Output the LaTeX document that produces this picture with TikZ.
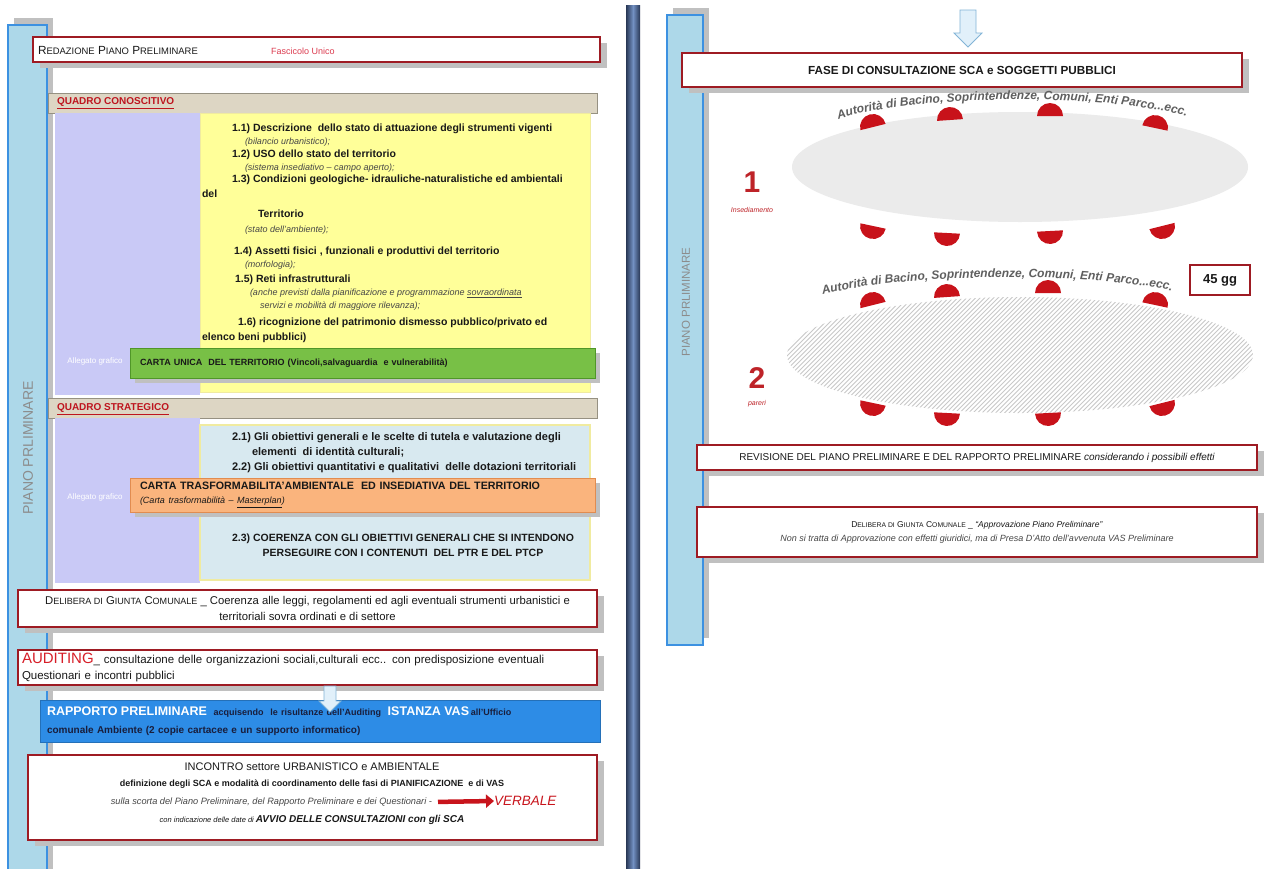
\documentclass[tikz,border=0pt]{standalone}
\usepackage{fontspec}
\setmainfont{Liberation Sans}
\usepackage{xcolor}
\usepackage{graphicx}
\usetikzlibrary{arrows.meta, positioning, shapes.geometric, shadows, decorations.text}

\definecolor{boxred}{RGB}{158,27,35}
\definecolor{shadowgray}{RGB}{192,192,192}
\definecolor{barfill}{RGB}{173,216,233}
\definecolor{barline}{RGB}{60,145,225}
\definecolor{bargray}{RGB}{140,140,140}
\definecolor{hdrfill}{RGB}{221,214,196}
\definecolor{hdrline}{RGB}{150,145,130}
\definecolor{hdrred}{RGB}{190,20,30}
\definecolor{lavfill}{RGB}{201,201,246}
\definecolor{yelfill}{RGB}{255,255,153}
\definecolor{yelline}{RGB}{240,235,160}
\definecolor{cielo}{RGB}{216,233,240}
\definecolor{greenfill}{RGB}{120,192,70}
\definecolor{greenline}{RGB}{80,150,40}
\definecolor{orangefill}{RGB}{250,180,125}
\definecolor{orangeline}{RGB}{225,140,80}
\definecolor{rapblue}{RGB}{45,140,230}
\definecolor{rapdark}{RGB}{25,30,60}
\definecolor{divdark}{RGB}{40,55,85}
\definecolor{divlight}{RGB}{115,145,195}
\definecolor{ellgray}{RGB}{235,235,235}
\definecolor{hatchgray}{RGB}{200,200,200}
\definecolor{seatred}{RGB}{200,18,26}
\definecolor{numred}{RGB}{190,35,40}
\definecolor{verbred}{RGB}{200,20,28}
\definecolor{audred}{RGB}{215,30,40}
\definecolor{pinkred}{RGB}{220,60,80}
\definecolor{arrowfill}{RGB}{225,240,250}
\definecolor{arrowline}{RGB}{130,180,215}
\definecolor{textdark}{RGB}{25,25,25}
\definecolor{notegray}{RGB}{70,70,70}
\definecolor{entigray}{RGB}{95,95,95}

\newcommand{\kap}[2]{#1\scalebox{0.8}{#2}}
\newcommand{\nota}[1]{{\fontsize{9}{12.8}\selectfont\mdseries\itshape\color{notegray}#1}}
\newcommand{\seatup}[3]{\fill[seatred, rotate around={#3:(#1,#2)}] (#1,#2) ++(-13pt,0pt) arc[start angle=180, end angle=0, radius=13pt] -- cycle;}
\newcommand{\seatdown}[3]{\fill[seatred, rotate around={#3:(#1,#2)}] (#1,#2) ++(-13pt,0pt) arc[start angle=180, end angle=360, radius=13pt] -- cycle;}
% block arrow: x, top, bottom, shaft half width, head half width
\newcommand{\freccia}[5]{\draw[draw=arrowline, fill=arrowfill, line width=0.8pt] (#1-#4,#2) -- (#1+#4,#2) -- (#1+#4,#3-#5) -- (#1+#5,#3-#5) -- (#1,#3) -- (#1-#5,#3-#5) -- (#1-#4,#3-#5) -- cycle;}

\begin{document}
\begin{tikzpicture}[
  x=1pt, y=-1pt,
  every node/.style = {inner sep=0pt, outer sep=0pt, text=textdark},
  redbox/.style = {draw=boxred, line width=1.6pt, fill=white, drop shadow={shadow xshift=7pt, shadow yshift=-6pt, opacity=1, fill=shadowgray}},
  sidebar/.style = {draw=barline, line width=1.8pt, fill=barfill, drop shadow={shadow xshift=6pt, shadow yshift=7pt, opacity=1, fill=shadowgray}},
  hdr/.style = {draw=hdrline, fill=hdrfill, line width=0.6pt, anchor=north west, minimum width=549, minimum height=20},
  hdrtxt/.style = {anchor=west, font=\fontsize{10}{10}\selectfont\bfseries, text=hdrred},
  panel/.style = {anchor=north west},
  allegato/.style = {font=\fontsize{8}{8}\selectfont, text=white},
  carta/.style = {anchor=north west, minimum width=465, align=left, text width=445, inner xsep=10, line width=0.8pt, drop shadow={shadow xshift=5pt, shadow yshift=-5pt, opacity=1, fill=shadowgray}},
  bignum/.style = {font=\fontsize{30}{30}\selectfont\bfseries, text=numred},
  numlbl/.style = {font=\fontsize{7}{7}\selectfont\itshape, text=numred},
  hatch/.style = {hatchgray, line width=0.9pt},
  enti/.style = {decorate, decoration={text along path, text align=center, text color=entigray,
    text={|\fontsize{12}{12}\selectfont\bfseries\itshape|Autorità di Bacino, Soprintendenze, Comuni, Enti Parco...ecc.}}}
]
  \path[use as bounding box, fill=white] (0,0) rectangle (1264,868);

  % left column
  \node[sidebar, anchor=north west, minimum width=39, minimum height=860] (barL) at (8,25) {};
  \node[rotate=90, font=\fontsize{14}{14}\selectfont, text=bargray] (barLtxt) at (28,448) {PIANO PRLIMINARE};

  \node[redbox, anchor=north west, minimum width=567, minimum height=25] (redaz) at (33,37) {};
  \node[anchor=west, font=\fontsize{11.8}{11.8}\selectfont] (redazTxt) at (38,50) {\kap{R}{EDAZIONE} \kap{P}{IANO} \kap{P}{RELIMINARE}};
  \node[anchor=west, font=\fontsize{9}{9}\selectfont, text=pinkred] (fasc) at (271,51) {Fascicolo Unico};

  \node[hdr] (hdrK) at (48,93) {};
  \node[hdrtxt] (hdrKtxt) at (57,103) {\underline{QUADRO CONOSCITIVO}};
  \node[panel, fill=lavfill, minimum width=145, minimum height=282] (lavK) at (55,113) {};
  \node[panel, fill=yelfill, draw=yelline, line width=1pt, minimum width=390, minimum height=279] (yelK) at (200,113) {};
  \node[panel, align=left, font=\fontsize{10.5}{12.8}\selectfont\bfseries] (elencoK) at (202,124) {%
    \hspace*{30pt}1.1) Descrizione\ \ dello stato di attuazione degli strumenti vigenti\\
    \hspace*{43pt}\nota{(bilancio urbanistico);}\\
    \hspace*{30pt}1.2) USO dello stato del territorio\\
    \hspace*{43pt}\nota{(sistema insediativo -- campo aperto);}\\
    \hspace*{30pt}1.3) Condizioni geologiche- idrauliche-naturalistiche ed ambientali\\[1.5pt]
    del\\[8pt]
    \hspace*{56pt}Territorio\\[2pt]
    \hspace*{43pt}\nota{(stato dell'ambiente);}\\[9pt]
    \hspace*{32pt}1.4) Assetti fisici , funzionali e produttivi del territorio\\
    \hspace*{43pt}\nota{(morfologia);}\\[2pt]
    \hspace*{33pt}1.5) Reti infrastrutturali\\[1pt]
    \hspace*{48pt}\nota{(anche previsti dalla pianificazione e programmazione \underline{sovraordinata}}\\
    \hspace*{58pt}\nota{servizi e mobilità di maggiore rilevanza);}\\[4pt]
    \hspace*{36pt}1.6) ricognizione del patrimonio dismesso pubblico/privato ed\\[2pt]
    elenco beni pubblici)};
  \node[carta, fill=greenfill, draw=greenline, minimum height=30, font=\fontsize{9}{9}\selectfont\bfseries] (cartaU) at (130,348) {CARTA UNICA\ \ DEL TERRITORIO (Vincoli,salvaguardia\ \ e vulnerabilità)};
  \node[allegato] (allegK) at (95,361) {Allegato grafico};

  \node[hdr] (hdrS) at (48,398) {};
  \node[hdrtxt] (hdrStxt) at (57,409) {\underline{QUADRO STRATEGICO}};
  \node[panel, fill=lavfill, minimum width=145, minimum height=165] (lavS) at (55,418) {};
  \node[panel, fill=cielo, draw=yelline, line width=1.5pt, minimum width=390, minimum height=155] (cieloS) at (200,425) {};
  \node[panel, align=left, font=\fontsize{11}{15}\selectfont\bfseries] (elencoS) at (202,433) {%
    \hspace*{30pt}2.1) Gli obiettivi generali e le scelte di tutela e valutazione degli\\
    \hspace*{50pt}elementi\ \ di identità culturali;\\
    \hspace*{30pt}2.2) Gli obiettivi quantitativi e qualitativi\ \ delle dotazioni territoriali};
  \node[carta, fill=orangefill, draw=orangeline, minimum height=34, font=\fontsize{10.7}{14}\selectfont] (cartaT) at (130,478) {\textbf{CARTA TRASFORMABILITA’AMBIENTALE\ \ ED INSEDIATIVA DEL TERRITORIO}\\{\fontsize{9}{14}\selectfont\itshape (Carta trasformabilità -- \underline{Masterplan})}};
  \node[allegato] (allegS) at (95,497) {Allegato grafico};
  \node[align=center, font=\fontsize{10.5}{15}\selectfont\bfseries] (coerenza) at (403,545) {2.3) COERENZA CON GLI OBIETTIVI GENERALI CHE SI INTENDONO\\PERSEGUIRE CON I CONTENUTI\ \ DEL PTR E DEL PTCP};

  \node[redbox, anchor=north west, minimum width=579, minimum height=37, align=center, font=\fontsize{11.3}{16}\selectfont] (delibera) at (18,590) {\kap{D}{ELIBERA DI} \kap{G}{IUNTA} \kap{C}{OMUNALE} \_ Coerenza alle leggi, regolamenti ed agli eventuali strumenti urbanistici e\\territoriali sovra ordinati e di settore};

  \node[redbox, anchor=north west, minimum width=579, minimum height=35, align=left, text width=571, inner xsep=4, font=\fontsize{11.5}{16}\selectfont] (auditing) at (18,650) {{\color{audred}\fontsize{15}{15}\selectfont AUDITING}\_ consultazione delle organizzazioni sociali,culturali ecc.. con predisposizione eventuali\\Questionari e incontri pubblici};

  \node[panel, fill=rapblue, draw=rapblue!80!black, line width=0.5pt, minimum width=560, minimum height=42, align=left, text width=554, inner xsep=3, font=\fontsize{10}{18}\selectfont\bfseries, text=rapdark] (rapporto) at (40,700) {\hspace*{4pt}{\color{white}\fontsize{12.5}{12.5}\selectfont RAPPORTO PRELIMINARE}\ \ {\fontsize{9}{9}\selectfont acquisendo\ \ le risultanze dell'Auditing}\ \ {\color{white}\fontsize{12.5}{12.5}\selectfont ISTANZA VAS}\,{\fontsize{9}{9}\selectfont all'Ufficio}\\\hspace*{4pt}comunale Ambiente (2 copie cartacee e un supporto informatico)};
  \freccia{330}{686}{712}{6}{11}

  \node[redbox, anchor=north west, minimum width=569, minimum height=85] (incontro) at (28,755) {};
  \node[font=\fontsize{11}{11}\selectfont] (inc1) at (312,767) {INCONTRO settore URBANISTICO e AMBIENTALE};
  \node[font=\fontsize{9}{9}\selectfont\bfseries] (inc2) at (312,784) {definizione degli SCA e modalità di coordinamento delle fasi di PIANIFICAZIONE\ \ e di VAS};
  \node[anchor=east, font=\fontsize{9.2}{9.2}\selectfont\itshape, text=notegray] (scorta) at (432,802) {sulla scorta del Piano Preliminare, del Rapporto Preliminare e dei Questionari -};
  \node[anchor=west, font=\fontsize{13.5}{13.5}\selectfont\itshape, text=verbred] (verbale) at (494,801) {VERBALE};
  \draw[-{Triangle[length=8pt,width=13pt]}, line width=4.5pt, verbred, shorten <=6pt] (scorta.east) -- (verbale.west);
  \node[font=\fontsize{7.5}{7.5}\selectfont\itshape] (inc4) at (312,820) {con indicazione delle date di {\fontsize{10}{10}\selectfont\bfseries AVVIO DELLE CONSULTAZIONI con gli SCA}};

  % divider
  \node[anchor=north west, minimum width=14, minimum height=870, left color=divdark, right color=divdark, middle color=divlight] (divisore) at (626,5) {};

  % right column
  \node[sidebar, anchor=north west, minimum width=36, minimum height=630] (barR) at (667,15) {};
  \node[rotate=90, font=\fontsize{11.5}{11.5}\selectfont, text=bargray] (barRtxt) at (686,302) {PIANO PRLIMINARE};

  \freccia{968}{10}{47}{8}{14}
  \node[redbox, anchor=north west, minimum width=560, minimum height=34, font=\fontsize{11.7}{11.7}\selectfont\bfseries] (fase) at (682,53) {FASE DI CONSULTAZIONE SCA e SOGGETTI PUBBLICI};

  \node[ellipse, fill=ellgray, minimum width=456, minimum height=110] (tavolo1) at (1020,167) {};
  \seatup{873}{127}{14} \seatup{950}{120}{4} \seatup{1050}{116}{0} \seatup{1155}{128}{-12}
  \seatdown{873}{226}{-12} \seatdown{947}{233}{-3} \seatdown{1050}{231}{3} \seatdown{1162}{226}{14}
  \path[enti] (815,131) .. controls (865,90) and (1160,90) .. (1210,127);
  \node[bignum] (uno) at (752,182) {1};
  \node[numlbl] (unoLbl) at (752,210) {Insediamento};

  \node[draw=boxred, line width=2.5pt, fill=white, minimum width=60, minimum height=30, font=\fontsize{13}{13}\selectfont\bfseries] (giorni) at (1220,280) {45 gg};

  % hatched table
  \node[ellipse, minimum width=466, minimum height=116] (tavolo2) at (1020,355) {};
  \begin{scope}
    \clip (tavolo2.center) ellipse [x radius=233pt, y radius=58pt];
    \foreach \k in {0,...,150} {\draw[hatch] (660+4.5*\k,420) -- ++(130,-130);}
  \end{scope}
  \seatup{873}{305}{14} \seatup{947}{297}{4} \seatup{1048}{293}{0} \seatup{1155}{305}{-12}
  \seatdown{873}{403}{-12} \seatdown{947}{413}{-3} \seatdown{1048}{413}{3} \seatdown{1162}{403}{14}
  \path[enti] (790,309) .. controls (840,268) and (1155,268) .. (1205,303);
  \node[bignum] (due) at (757,378) {2};
  \node[numlbl] (dueLbl) at (757,404) {pareri};

  \node[redbox, anchor=north west, minimum width=560, minimum height=25, font=\fontsize{10}{10}\selectfont] (revisione) at (697,445) {REVISIONE DEL PIANO PRELIMINARE E DEL RAPPORTO PRELIMINARE {\itshape considerando i possibili effetti}};
  \node[redbox, anchor=north west, minimum width=560, minimum height=50, align=center, font=\fontsize{8.5}{14}\selectfont] (approvazione) at (697,507) {\kap{D}{ELIBERA DI} \kap{G}{IUNTA} \kap{C}{OMUNALE} \_ \textit{“Approvazione Piano Preliminare”}\\{\fontsize{9}{9}\selectfont\itshape\color{notegray} Non si tratta di Approvazione con effetti giuridici, ma di Presa D'Atto dell'avvenuta VAS Preliminare}};
\end{tikzpicture}
\end{document}
